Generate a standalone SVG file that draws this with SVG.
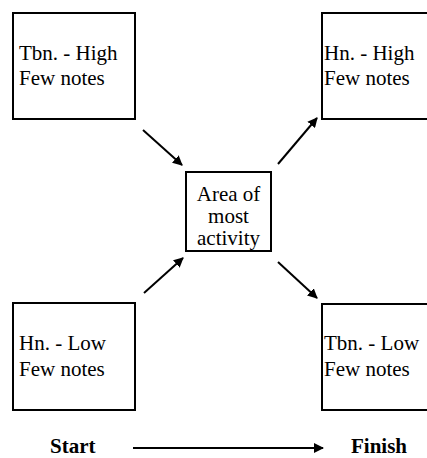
<svg xmlns="http://www.w3.org/2000/svg" width="427" height="458" viewBox="0 0 427 458">
  <style>
    .box { fill: #ffffff; stroke: #000000; stroke-width: 2; }
    .lbl { font-family: "Liberation Serif", "Times New Roman", serif; font-size: 21px; fill: #000000; }
    .mid { text-anchor: middle; }
    .bold { font-weight: bold; }
    .conn { stroke: #000000; stroke-width: 2; fill: none; marker-end: url(#head); }
  </style>
  <defs>
    <marker id="head" markerWidth="5" markerHeight="5" refX="4.5" refY="2.5" orient="auto" markerUnits="strokeWidth">
      <path d="M0,0 L5,2.5 L0,5 z" fill="#000000"/>
    </marker>
  </defs>

  <g id="tbn-high">
    <rect class="box" x="13" y="13" width="122" height="106"/>
    <text class="lbl" x="19" y="60">Tbn. - High</text>
    <text class="lbl" x="19" y="85">Few notes</text>
  </g>

  <g id="hn-high">
    <rect class="box" x="322" y="13" width="120" height="106"/>
    <text class="lbl" x="324" y="60">Hn. - High</text>
    <text class="lbl" x="324" y="85">Few notes</text>
  </g>

  <g id="activity">
    <rect class="box" x="186" y="172" width="85" height="79"/>
    <text class="lbl mid" x="228.5" y="201">Area of</text>
    <text class="lbl mid" x="228.5" y="223">most</text>
    <text class="lbl mid" x="228.5" y="245">activity</text>
  </g>

  <g id="hn-low">
    <rect class="box" x="13" y="303" width="122" height="107"/>
    <text class="lbl" x="19" y="350">Hn. - Low</text>
    <text class="lbl" x="19" y="376">Few notes</text>
  </g>

  <g id="tbn-low">
    <rect class="box" x="322" y="304" width="120" height="106"/>
    <text class="lbl" x="324" y="350">Tbn. - Low</text>
    <text class="lbl" x="324" y="376">Few notes</text>
  </g>

  <g id="timeline">
    <text class="lbl bold" x="50" y="453">Start</text>
    <text class="lbl bold" x="351" y="453">Finish</text>
  </g>

  <g id="connectors">
    <line class="conn" x1="143" y1="130" x2="182" y2="165"/>
    <line class="conn" x1="144" y1="293" x2="183" y2="258"/>
    <line class="conn" x1="278" y1="164" x2="317" y2="118"/>
    <line class="conn" x1="278" y1="262" x2="317" y2="298"/>
    <line class="conn" x1="133" y1="448" x2="323" y2="448"/>
  </g>
</svg>
